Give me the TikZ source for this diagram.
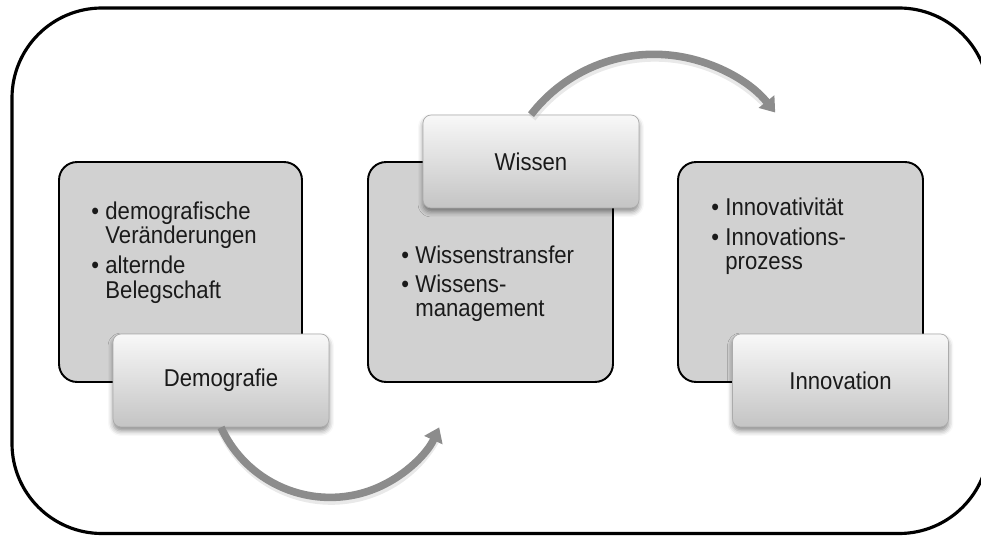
\documentclass[tikz,border=0pt]{standalone}
\usepackage{fontspec}
\usepackage{graphicx}
\setmainfont{Liberation Sans}
\usetikzlibrary{arrows.meta,shadows.blur}

\definecolor{panelgray}{HTML}{D1D1D1}
\definecolor{tabtop}{HTML}{F8F8F8}
\definecolor{tabbottom}{HTML}{C4C4C4}
\definecolor{tabline}{HTML}{ABABAB}
\definecolor{arrowgray}{HTML}{8C8C8C}
\definecolor{inkgray}{HTML}{1A1A1A}

\newcommand{\itemfont}{\fontsize{12.6}{12.2}\selectfont}
% slightly tall lettering
\newcommand{\tall}[1]{\scalebox{1}[1.1]{#1}}

\tikzset{
  panel/.style={draw=black, line width=1.1pt, fill=panelgray,
    rounded corners=0.36cm, minimum width=4.9cm, minimum height=4.4cm,
    inner sep=0pt},
  tab/.style={draw=tabline, line width=0.4pt, top color=tabtop,
    bottom color=tabbottom, rounded corners=0.16cm,
    minimum width=4.32cm, minimum height=1.86cm, inner sep=0pt,
    text=inkgray, font=\itemfont,
    blur shadow={shadow xshift=0pt, shadow yshift=-0.08cm,
      shadow blur radius=0.1cm, shadow opacity=45}},
  points/.style={inner sep=0pt, anchor=base west, text=inkgray, font=\itemfont},
  flow/.style={draw=arrowgray, line width=4.3pt,
    -{Triangle[width=11pt, length=8pt]}},
  flowshade/.style={draw=black!25, line width=5pt, opacity=0.35}
}

\begin{document}
\begin{tikzpicture}[x=0.02cm, y=0.02cm]
  \clip (0,0) rectangle (981,535);

  % outer frame
  \draw[line width=1.8pt, rounded corners=1.8cm] (12,1.5) rectangle (989,527);

  % three grey panels
  \node[panel, minimum width=4.86cm] (demopanel) at (180.5,263) {};
  \node[panel] (wissenpanel) at (490.5,263) {};
  \node[panel] (innopanel) at (800.5,263) {};

  % bullet lists
  \node[points] (demolist) at (91,316) {\tall{%
    \begin{tabular}[t]{@{}l@{\hspace{3.6pt}}l@{}}
      \textbullet & demografische\\
                  & Veränderungen\\[2.7pt]
      \textbullet & alternde\\
                  & Belegschaft
    \end{tabular}}};
  \node[points] (wissenlist) at (401,272) {\tall{%
    \begin{tabular}[t]{@{}l@{\hspace{3.6pt}}l@{}}
      \textbullet & Wissenstransfer\\[2.7pt]
      \textbullet & Wissens-\\
                  & management
    \end{tabular}}};
  \node[points] (innolist) at (711,319) {\tall{%
    \begin{tabular}[t]{@{}l@{\hspace{3.6pt}}l@{}}
      \textbullet & Innovativität\\[2.7pt]
      \textbullet & Innovations-\\
                  & prozess
    \end{tabular}}};

  % title tabs
  \node[tab] (demo) at (221,154.5) {\tall{Demografie}};
  \node[tab] (wissen) at (531,373.5) {\tall{Wissen}};
  \node[tab] (inno) at (840.5,154.5) {\tall{Innovation}};

  % curved arrows between the stages
  \draw[flowshade] ([shift={(1,-3)}]demo.south) arc[start angle=204.6, end angle=330, radius=120];
  \draw[flow] (demo.south) arc[start angle=204.6, end angle=335.4, radius=120];
  \draw[flowshade] ([shift={(1,-3)}]wissen.north) arc[start angle=142.3, end angle=44, radius=155.4];
  \draw[flow] (wissen.north) arc[start angle=142.3, end angle=38.7, radius=155.4];
\end{tikzpicture}
\end{document}
